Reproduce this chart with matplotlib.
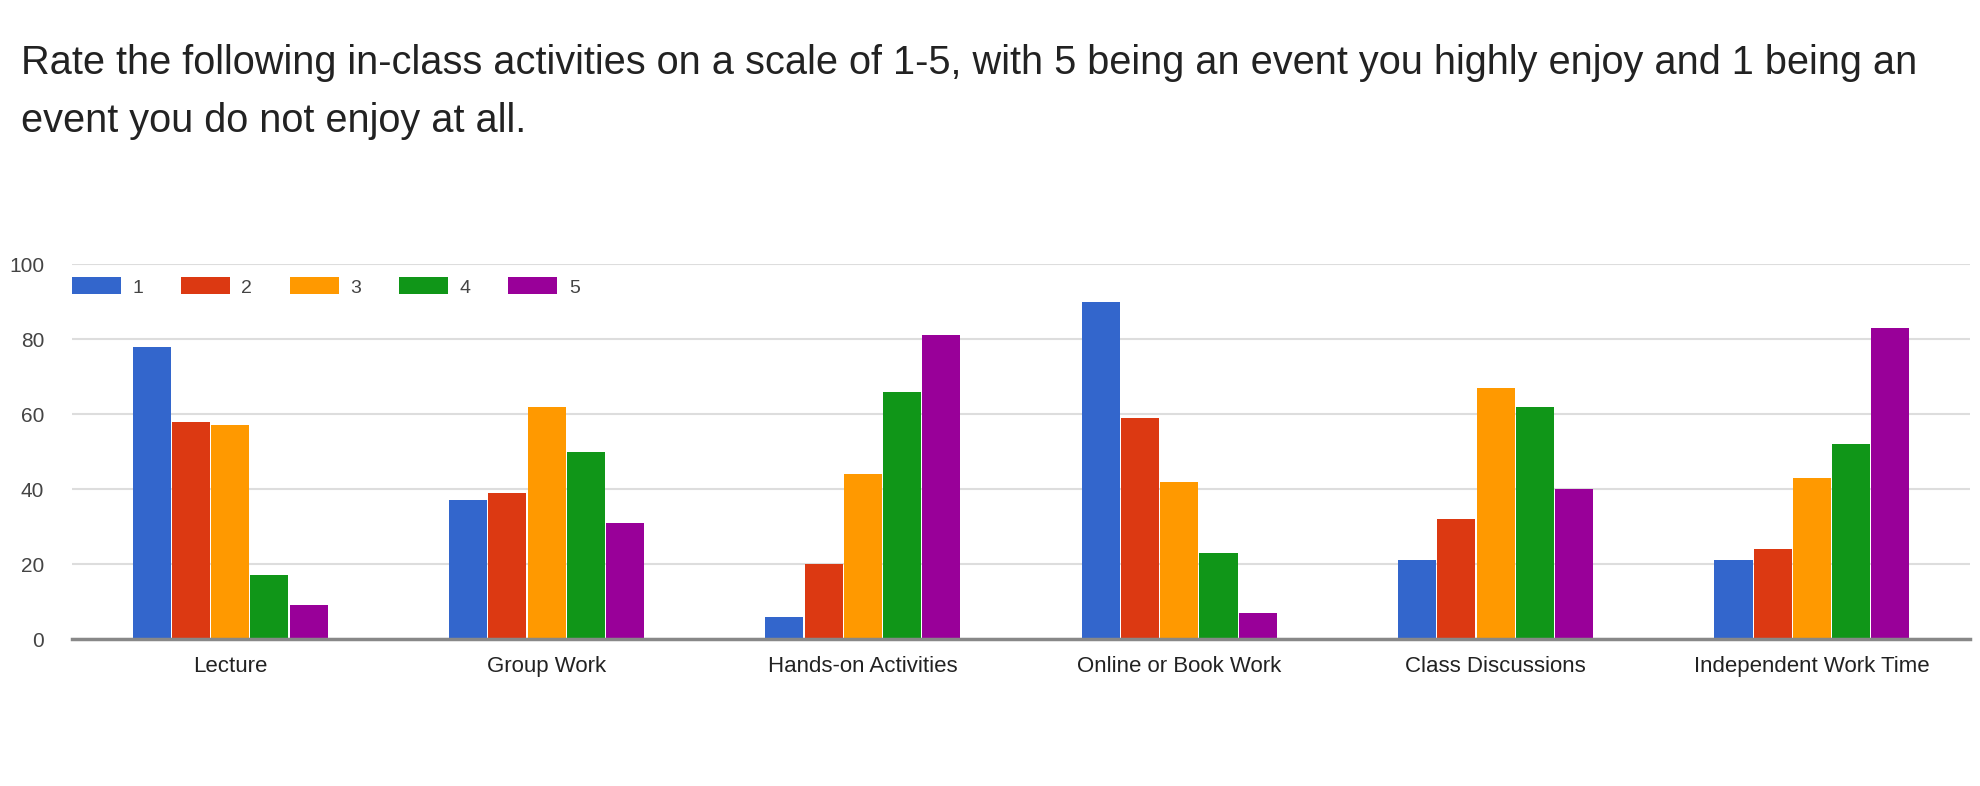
import matplotlib
matplotlib.use("Agg")
import matplotlib.pyplot as plt
import numpy as np

plt.rcParams['font.family'] = ['Liberation Sans', 'DejaVu Sans']

categories = ["Lecture", "Group Work", "Hands-on Activities", "Online or Book Work",
              "Class Discussions", "Independent Work Time"]
series_names = ["1", "2", "3", "4", "5"]
rating_1 = [78, 37, 6, 90, 21, 21]
rating_2 = [58, 39, 20, 59, 32, 24]
rating_3 = [57, 62, 44, 42, 67, 43]
rating_4 = [17, 50, 66, 23, 62, 52]
rating_5 = [9, 31, 81, 7, 40, 83]
colors = ["#3366cc", "#dc3912", "#ff9900", "#109618", "#990099"]

series = [rating_1, rating_2, rating_3, rating_4, rating_5]

fig = plt.figure(figsize=(19.8, 7.86), dpi=100)
ax = fig.add_axes([0.0364, 0.187, 0.9586, 0.477])

x = np.arange(len(categories))
w = 0.124
for i, (vals, name, c) in enumerate(zip(series, series_names, colors)):
    ax.bar(x + (i - 2) * w, vals, width=w * 0.97, color=c, label=name, zorder=3)

ax.set_xlim(-0.5, len(categories) - 0.5)
ax.set_ylim(0, 100)
ax.set_yticks([0, 20, 40, 60, 80, 100])
ax.set_xticks(x)
ax.set_xticklabels(categories, fontsize=16, color="#222222")
ax.tick_params(axis="y", length=0, pad=20, labelsize=15, labelcolor="#444444")
ax.tick_params(axis="x", length=0, pad=12)
ax.grid(axis="y", color="#dddddd", linewidth=1.5, zorder=0)
for s in ["top", "right", "left"]:
    ax.spines[s].set_visible(False)
ax.spines["bottom"].set_color("#888888")
ax.spines["bottom"].set_linewidth(2.5)
ax.spines["bottom"].set_zorder(4)

ax.legend(loc="center left", bbox_to_anchor=(0.0, 0.939), ncol=5, frameon=False,
          fontsize=14, handlelength=2.5, handleheight=0.95, handletextpad=0.6,
          columnspacing=1.95, labelcolor="#444444", borderaxespad=0, borderpad=0)

fig.text(0.0106, 0.92, "Rate the following in-class activities on a scale of 1-5, with 5 being an event you highly enjoy and 1 being an",
         fontsize=28.6, color="#222222", va="center")
fig.text(0.0106, 0.846, "event you do not enjoy at all.",
         fontsize=28.6, color="#222222", va="center")

fig.savefig("out.png", dpi=100, facecolor="white")
